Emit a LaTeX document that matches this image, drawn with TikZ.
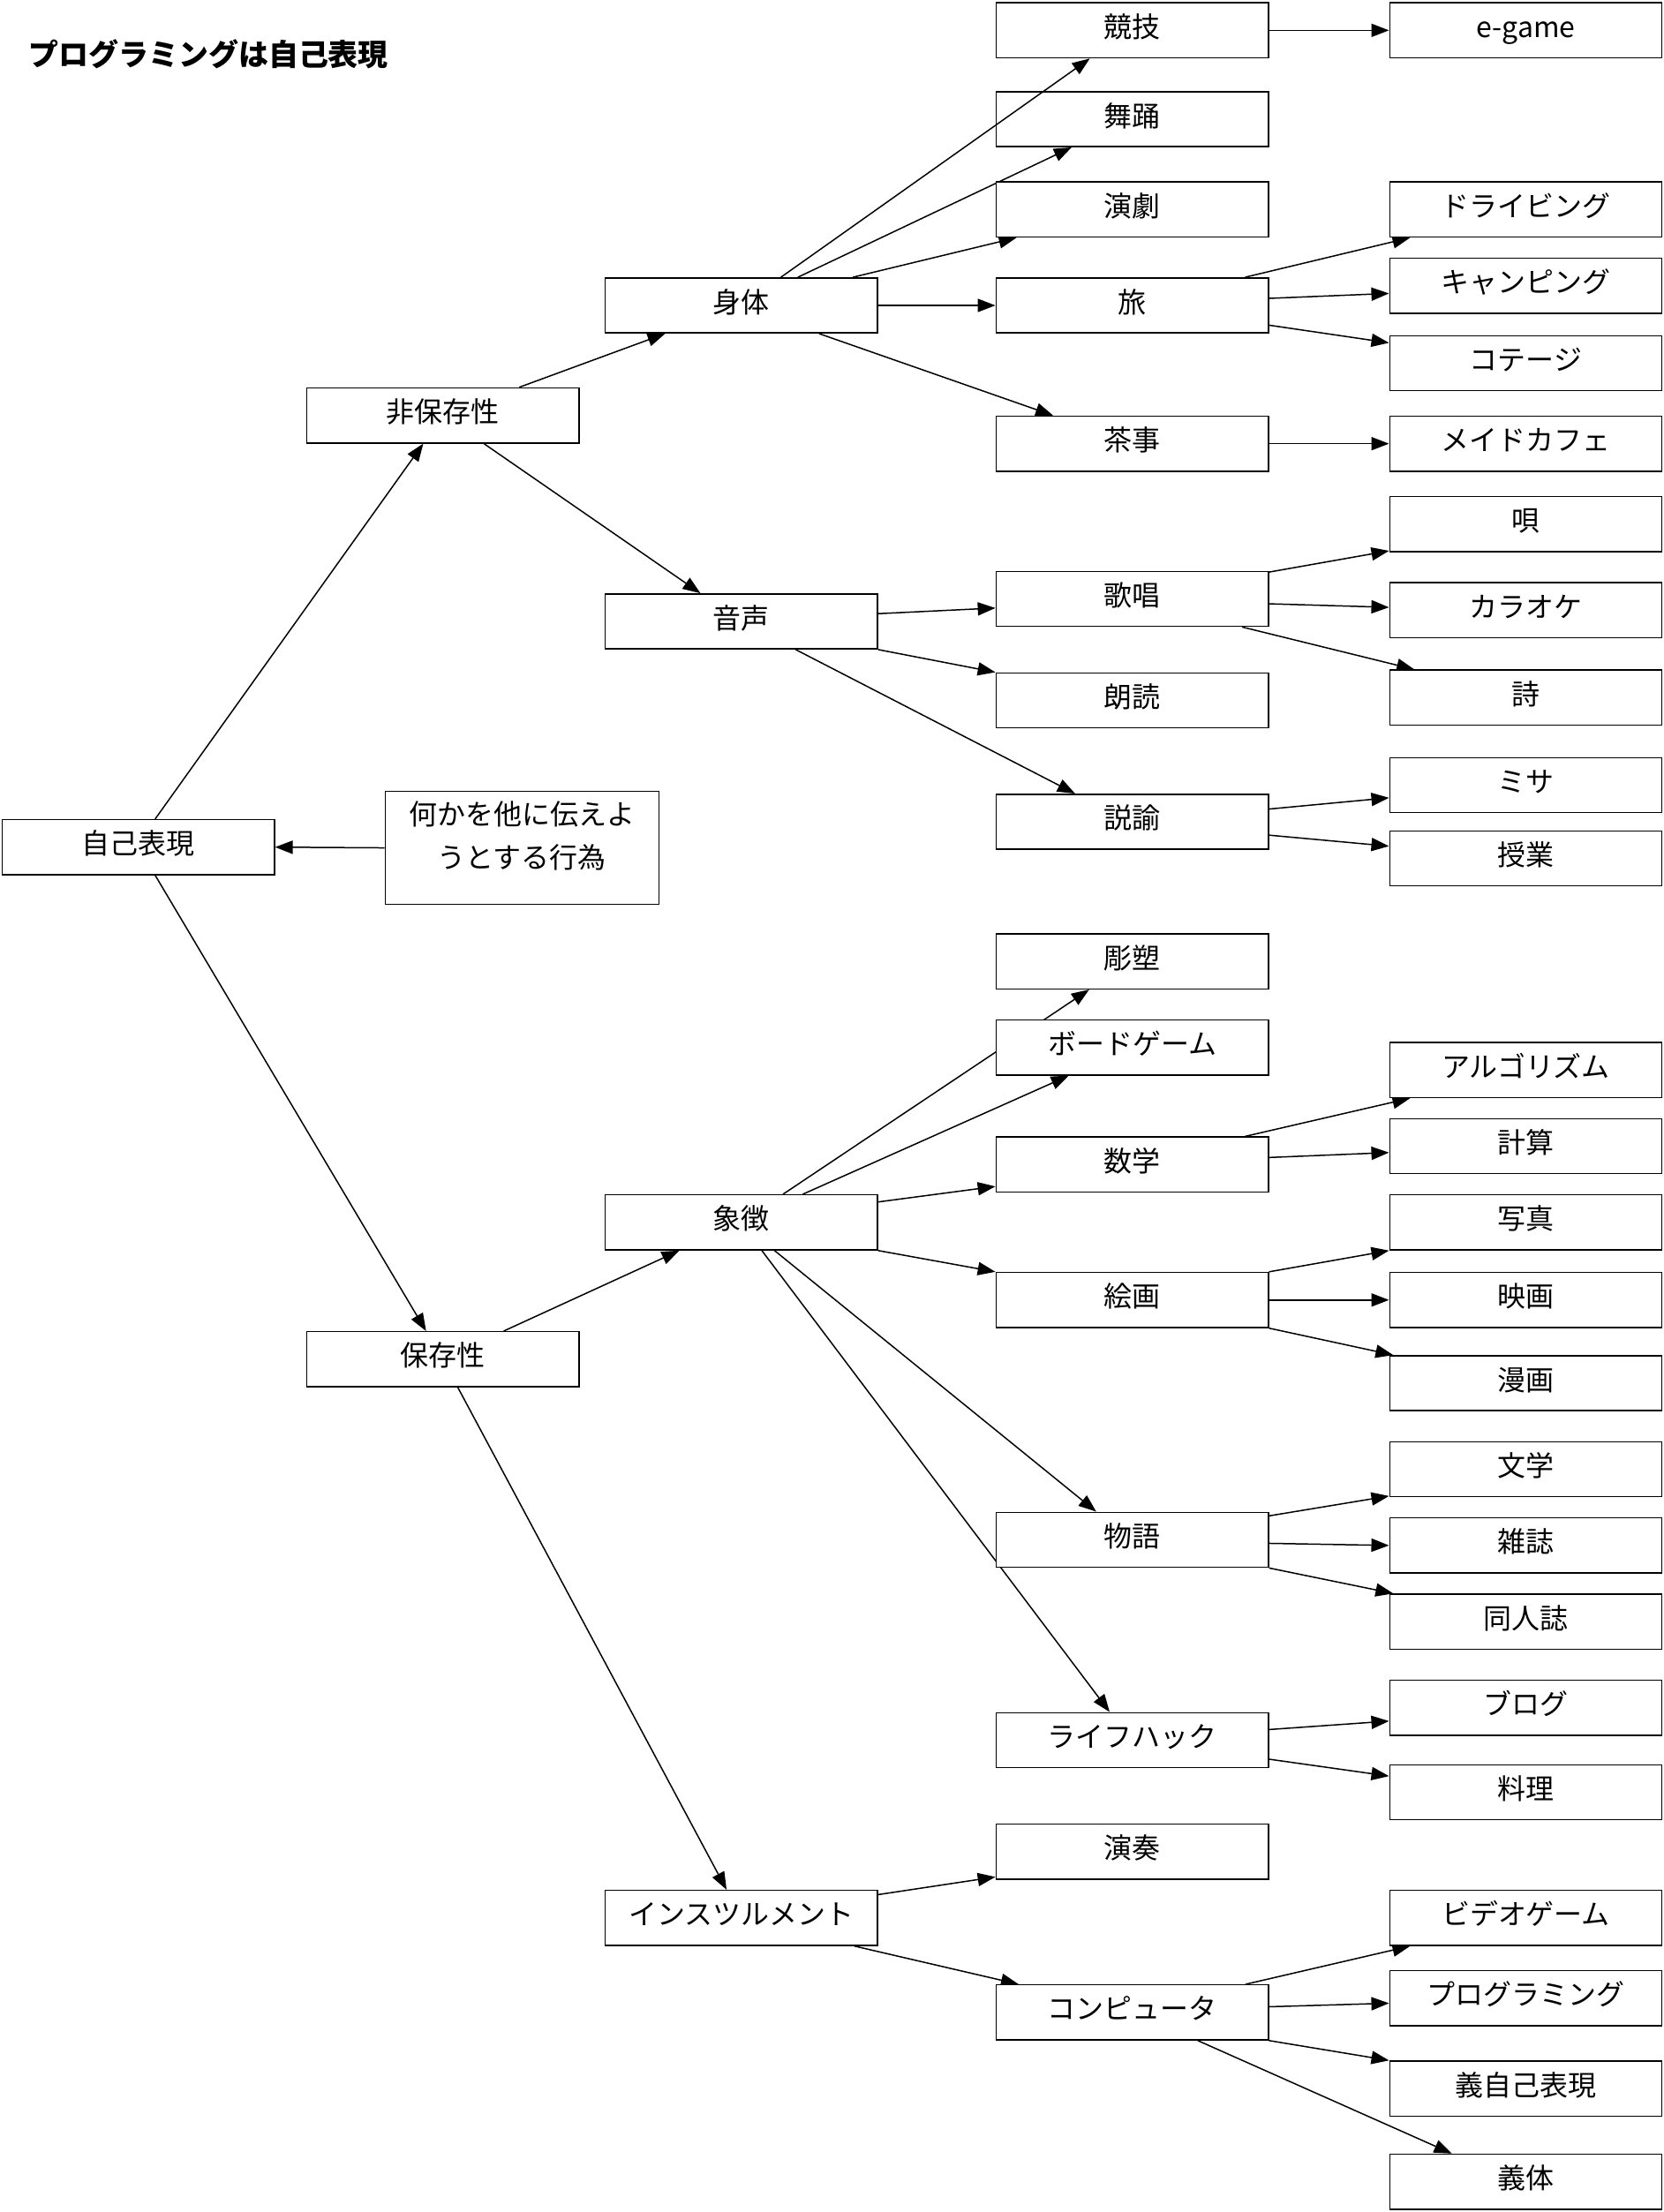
\documentclass[tikz,border=0pt]{standalone}
\usepackage{fontspec}
\setmainfont{Noto Sans CJK JP}
\usetikzlibrary{arrows.meta}
\pgfdeclarelayer{edges}
\pgfsetlayers{edges,main}
\tikzset{
  box/.style={draw, line width=0.75pt, fill=white, inner sep=0pt,
    minimum width=154.4pt, minimum height=31.2pt,
    text height=12pt, text depth=4pt},
  arr/.style={line width=0.75pt, -{Triangle[length=10pt,width=7.5pt]}}
}
\begin{document}
\begin{tikzpicture}[x=0.8pt,y=-0.8pt]
                \useasboundingbox (0,0) rectangle (1179,1568);
                {\fontsize{16pt}{24.8pt}\selectfont

                % Title
                \node [anchor=west, inner sep=0pt, font=\fontsize{17pt}{20pt}\selectfont\bfseries] (title) at (20,38.5) {プログラミングは自己表現};%

                % Root and its note
                \node [box] (jiko) at (98,600.5) {自己表現};%
                \node [box, minimum width=155.2pt, minimum height=64pt, align=center, text height=, text depth=] (koui) at (370,601) {何かを他に伝えよ\\うとする行為\\[-10pt]{}};%

                % Second level
                \node [box] (hihozon) at (314,294.5) {非保存性};%
                \node [box] (hozon) at (314,963.5) {保存性};%

                % Third level
                \node [box] (sintai) at (525.5,216.5) {身体};%
                \node [box] (onsei) at (525.5,440.5) {音声};%
                \node [box] (shouchou) at (525.5,866.5) {象徴};%
                \node [box] (inst) at (525.5,1359.5) {インスツルメント};%

                % Fourth level
                \node [box] (kyougi) at (802.5,21.5) {競技};%
                \node [box] (buyou) at (802.5,84.5) {舞踊};%
                \node [box] (engeki) at (802.5,148.5) {演劇};%
                \node [box] (tabi) at (802.5,216.5) {旅};%
                \node [box] (chaji) at (802.5,314.5) {茶事};%
                \node [box] (kashou) at (802.5,424.5) {歌唱};%
                \node [box] (roudoku) at (802.5,496.5) {朗読};%
                \node [box] (setsuyu) at (802.5,582.5) {説諭};%
                \node [box] (chouso) at (802.5,681.5) {彫塑};%
                \node [box] (board) at (802.5,742.5) {ボードゲーム};%
                \node [box] (suugaku) at (802.5,825.5) {数学};%
                \node [box] (kaiga) at (802.5,921.5) {絵画};%
                \node [box] (monogatari) at (802.5,1091.5) {物語};%
                \node [box] (lifehack) at (802.5,1233.5) {ライフハック};%
                \node [box] (ensou) at (802.5,1312.5) {演奏};%
                \node [box] (computer) at (802.5,1426.5) {コンピュータ};%

                % Fifth level
                \node [box] (egame) at (1081.5,21.5) {e-game};%
                \node [box] (drive) at (1081.5,148.5) {ドライビング};%
                \node [box] (camp) at (1081.5,202.5) {キャンピング};%
                \node [box] (cottage) at (1081.5,257.5) {コテージ};%
                \node [box] (maid) at (1081.5,314.5) {メイドカフェ};%
                \node [box] (uta) at (1081.5,371.5) {唄};%
                \node [box] (karaoke) at (1081.5,432.5) {カラオケ};%
                \node [box] (shi) at (1081.5,494.5) {詩};%
                \node [box] (misa) at (1081.5,556.5) {ミサ};%
                \node [box] (jugyou) at (1081.5,608.5) {授業};%
                \node [box] (algo) at (1081.5,758.5) {アルゴリズム};%
                \node [box] (keisan) at (1081.5,812.5) {計算};%
                \node [box] (shashin) at (1081.5,866.5) {写真};%
                \node [box] (eiga) at (1081.5,921.5) {映画};%
                \node [box] (manga) at (1081.5,980.5) {漫画};%
                \node [box] (bungaku) at (1081.5,1041.5) {文学};%
                \node [box] (zasshi) at (1081.5,1095.5) {雑誌};%
                \node [box] (doujin) at (1081.5,1149.5) {同人誌};%
                \node [box] (blog) at (1081.5,1210.5) {ブログ};%
                \node [box] (ryouri) at (1081.5,1270.5) {料理};%
                \node [box] (video) at (1081.5,1359.5) {ビデオゲーム};%
                \node [box] (prog) at (1081.5,1416.5) {プログラミング};%
                \node [box] (gijiko) at (1081.5,1480.5) {義自己表現};%
                \node [box] (gitai) at (1081.5,1546.5) {義体};%

                % Body to competition crosses the dance box, drawn on top
                \draw [arr] ([shift={(28,0)}]sintai.north) -- ([shift={(-30,0)}]kyougi.south);%

                \begin{pgfonlayer}{edges}
                % From the root
                \draw [arr] ([shift={(12,0)}]jiko.north) -- ([shift={(-14,0)}]hihozon.south);%
                \draw [arr] ([shift={(12,0)}]jiko.south) -- ([shift={(-12,0)}]hozon.north);%
                \draw [arr] (koui.west) -- (jiko.east);%

                % Non-preserving branch
                \draw [arr] ([shift={(54,0)}]hihozon.north) -- ([shift={(-54,0)}]sintai.south);%
                \draw [arr] ([shift={(29,0)}]hihozon.south) -- ([shift={(-29,0)}]onsei.north);%

                % Body
                \draw [arr] ([shift={(40,0)}]sintai.north) -- ([shift={(-43,0)}]buyou.south);%
                \draw [arr] ([shift={(79,0)}]sintai.north) -- ([shift={(-82,0)}]engeki.south);%
                \draw [arr] (sintai.east) -- (tabi.west);%
                \draw [arr] ([shift={(55,0)}]sintai.south) -- ([shift={(-56,0)}]chaji.north);%
                \draw [arr] (kyougi.east) -- (egame.west);%
                \draw [arr] ([shift={(80,0)}]tabi.north) -- ([shift={(-82,0)}]drive.south);%
                \draw [arr] ([shift={(0,-5)}]tabi.east) -- ([shift={(0,5.5)}]camp.west);%
                \draw [arr] ([shift={(0,14)}]tabi.east) -- ([shift={(0,-14.5)}]cottage.west);%
                \draw [arr] (chaji.east) -- (maid.west);%

                % Voice
                \draw [arr] ([shift={(0,-5.5)}]onsei.east) -- ([shift={(0,6.5)}]kashou.west);%
                \draw [arr] (onsei.south east) -- (roudoku.north west);%
                \draw [arr] ([shift={(38.5,0)}]onsei.south) -- ([shift={(-40.5,0)}]setsuyu.north);%
                \draw [arr] ([shift={(0,1)}]kashou.north east) -- ([shift={(0,-1)}]uta.south west);%
                \draw [arr] ([shift={(0,3.5)}]kashou.east) -- ([shift={(0,-2)}]karaoke.west);%
                \draw [arr] ([shift={(78,0)}]kashou.south) -- ([shift={(-79,0)}]shi.north);%
                \draw [arr] ([shift={(0,-9)}]setsuyu.east) -- ([shift={(0,9)}]misa.west);%
                \draw [arr] ([shift={(0,9.5)}]setsuyu.east) -- ([shift={(0,-8.7)}]jugyou.west);%

                % Preserving branch
                \draw [arr] ([shift={(43,0)}]hozon.north) -- ([shift={(-44,0)}]shouchou.south);%
                \draw [arr] ([shift={(10.5,0)}]hozon.south) -- ([shift={(-10.5,0)}]inst.north);%

                % Symbol
                \draw [arr] ([shift={(29.5,0)}]shouchou.north) -- ([shift={(-30.5,0)}]chouso.south);%
                \draw [arr] ([shift={(43.5,0)}]shouchou.north) -- ([shift={(-45,0)}]board.south);%
                \draw [arr] ([shift={(0,-14.5)}]shouchou.east) -- ([shift={(0,15.5)}]suugaku.west);%
                \draw [arr] (shouchou.south east) -- (kaiga.north west);%
                \draw [arr] ([shift={(23.5,0)}]shouchou.south) -- ([shift={(-25.5,0)}]monogatari.north);%
                \draw [arr] ([shift={(14.5,0)}]shouchou.south) -- ([shift={(-16,0)}]lifehack.north);%
                \draw [arr] ([shift={(80,0)}]suugaku.north) -- ([shift={(-82,0)}]algo.south);%
                \draw [arr] ([shift={(0,-5)}]suugaku.east) -- ([shift={(0,4.5)}]keisan.west);%
                \draw [arr] (kaiga.north east) -- (shashin.south west);%
                \draw [arr] (kaiga.east) -- (eiga.west);%
                \draw [arr] (kaiga.south east) -- ([shift={(3,0)}]manga.north west);%
                \draw [arr] ([shift={(0,3)}]monogatari.north east) -- ([shift={(0,-1)}]bungaku.south west);%
                \draw [arr] ([shift={(0,2.5)}]monogatari.east) -- (zasshi.west);%
                \draw [arr] (monogatari.south east) -- ([shift={(3,0)}]doujin.north west);%
                \draw [arr] ([shift={(0,-7.5)}]lifehack.east) -- ([shift={(0,9.5)}]blog.west);%
                \draw [arr] ([shift={(0,13.5)}]lifehack.east) -- ([shift={(0,-11.5)}]ryouri.west);%

                % Instrument
                \draw [arr] ([shift={(0,-16.5)}]inst.east) -- ([shift={(0,-2)}]ensou.south west);%
                \draw [arr] ([shift={(80,0)}]inst.south) -- ([shift={(-80.5,0)}]computer.north);%
                \draw [arr] ([shift={(80.5,0)}]computer.north) -- ([shift={(-82,0)}]video.south);%
                \draw [arr] ([shift={(0,-4)}]computer.east) -- ([shift={(0,3.5)}]prog.west);%
                \draw [arr] (computer.south east) -- (gijiko.north west);%
                \draw [arr] ([shift={(46.5,0)}]computer.south) -- ([shift={(-52.5,0)}]gitai.north);%
                \end{pgfonlayer}
                }
\end{tikzpicture}
\end{document}
